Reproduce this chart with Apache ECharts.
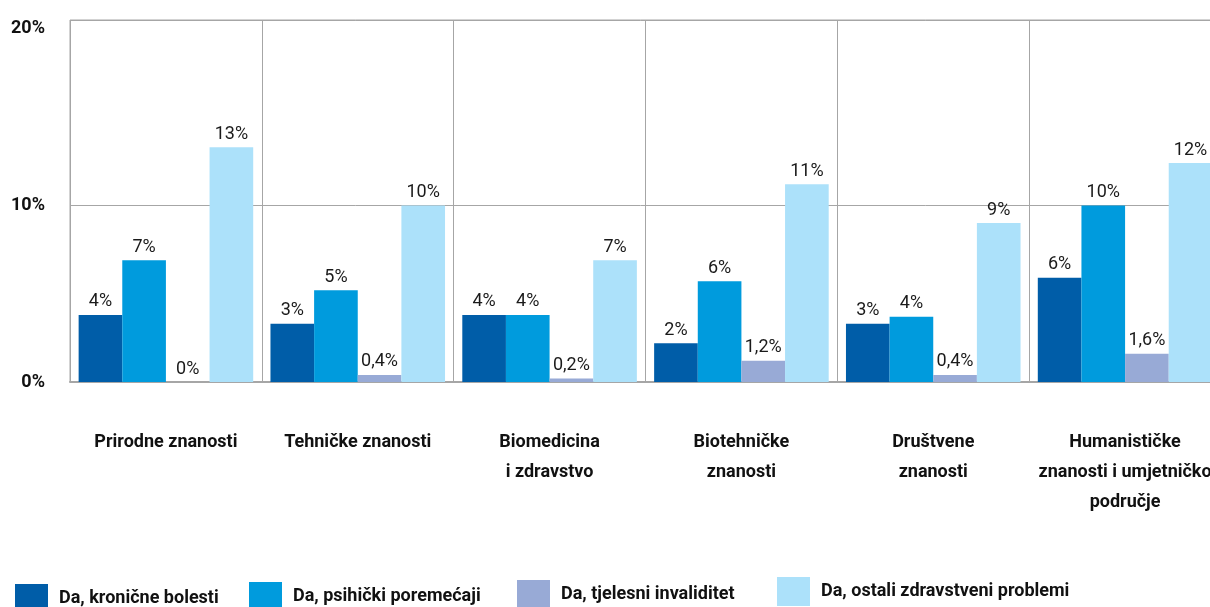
<!DOCTYPE html>
<html>
<head>
<meta charset="utf-8">
<script src="https://cdn.jsdelivr.net/npm/echarts@6/dist/echarts.min.js"></script>
<style>
    html, body { margin: 0; padding: 0; background: #fff; }
    #main { width: 1210px; height: 607px; }
</style>
</head>
<body>
<div id="main"></div>
<script>
// categories (x axis)
var categories = [
    'Prirodne znanosti',
    'Tehničke znanosti',
    'Biomedicina\ni zdravstvo',
    'Biotehničke\nznanosti',
    'Društvene\nznanosti',
    'Humanističke\nznanosti i umjetničko\npodručje'
];

var seriesNames = [
    'Da, kronične bolesti',
    'Da, psihički poremećaji',
    'Da, tjelesni invaliditet',
    'Da, ostali zdravstveni problemi'
];

// values in %
var kronicne = [3.8, 3.3, 3.8, 2.2, 3.3, 5.9];
var psihicki = [6.9, 5.2, 3.8, 5.7, 3.7, 10.0];
var tjelesni = [0, 0.4, 0.2, 1.2, 0.4, 1.6];
var ostali = [13.3, 10.0, 6.9, 11.2, 9.0, 12.4];

var yTicks = [0, 10, 20];

var colors = ['#005DA8', '#009BDD', '#98AAD6', '#ACE1FA'];
var FONT = 'Roboto, "Liberation Sans", sans-serif';

var chart = echarts.init(document.getElementById('main'), null, { renderer: 'canvas' });

function intLabel(p) {
    return Math.round(p.value) + '%';
}
function decLabel(p) {
    if (p.value === 0) return '0%';
    return p.value.toFixed(1).replace('.', ',') + '%';
}

function makeSeries(name, data, fmt) {
    return {
        name: name,
        type: 'bar',
        data: data,
        barGap: 0,
        barCategoryGap: '9%',
        label: {
            show: true,
            position: 'top',
            distance: 4,
            fontFamily: FONT,
            fontSize: 18,
            color: '#1a1a1a',
            formatter: fmt
        }
    };
}

// one legend per item, the original has them staggered
var legendPos = [
    { left: 10, top: 579 },
    { left: 244, top: 577 },
    { left: 512, top: 575 },
    { left: 772, top: 572 }
];
var legends = seriesNames.map(function (n, i) {
    return {
        data: [n],
        left: legendPos[i].left,
        top: legendPos[i].top,
        icon: 'rect',
        itemWidth: 33,
        itemHeight: 29,
        selectedMode: false,
        textStyle: {
            fontFamily: FONT,
            fontSize: 18,
            fontWeight: 'bold',
            color: '#111',
            padding: [6, 0, 0, 6]
        }
    };
});

var option = {
    animation: false,
    color: colors,
    legend: legends,
    grid: {
        left: 70,
        top: 20,
        width: 1151,
        height: 362,
        outerBoundsMode: 'none',
        show: true,
        borderColor: '#a6a6a6',
        borderWidth: 1
    },
    xAxis: {
        type: 'category',
        data: categories,
        axisTick: { show: false },
        axisLine: { lineStyle: { color: '#a6a6a6', width: 2 } },
        splitLine: { show: true, lineStyle: { color: '#a6a6a6', width: 1 } },
        axisLabel: {
            interval: 0,
            margin: 45,
            fontFamily: FONT,
            fontSize: 18,
            fontWeight: 'bold',
            color: '#111',
            lineHeight: 30
        }
    },
    yAxis: {
        type: 'value',
        min: yTicks[0],
        max: 20.5,
        interval: 10,
        axisLine: { show: false },
        axisTick: { show: false },
        splitLine: {
            show: true,
            lineStyle: { color: ['#a6a6a6', '#a6a6a6', 'rgba(0,0,0,0)'], width: 1 }
        },
        axisLabel: {
            margin: 25,
            fontFamily: FONT,
            fontSize: 18,
            fontWeight: 'bold',
            color: '#111',
            formatter: function (v) { return v + '%'; }
        }
    },
    series: [
        makeSeries(seriesNames[0], kronicne, intLabel),
        makeSeries(seriesNames[1], psihicki, intLabel),
        makeSeries(seriesNames[2], tjelesni, decLabel),
        makeSeries(seriesNames[3], ostali, intLabel)
    ]
};

chart.setOption(option);
</script>
</body>
</html>
